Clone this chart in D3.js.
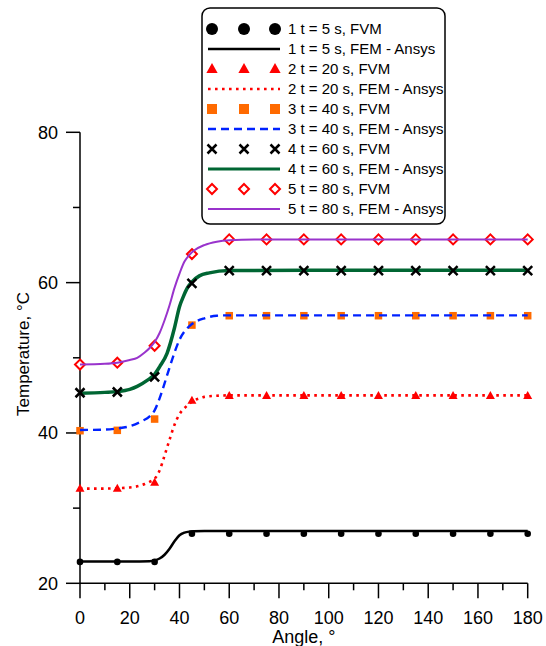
<!DOCTYPE html>
<html><head><meta charset="utf-8">
<script src="https://cdn.jsdelivr.net/npm/d3@7"></script>
<style>body{margin:0;background:#fff}svg{display:block;font-family:"Liberation Sans",Arial,sans-serif}</style>
</head><body><svg id="c" width="546" height="646"></svg>
<script>
const fvmAngles = [0,15,30,45,60,75,90,105,120,135,150,165,180];
const fvm1 = [22.85,22.85,22.85,26.6,26.6,26.6,26.6,26.6,26.6,26.6,26.6,26.6,26.6];
const fvm2 = [32.6,32.6,33.4,44.3,44.95,44.95,44.95,44.95,44.95,44.95,44.95,44.95,44.95];
const fvm3 = [40.3,40.35,41.85,54.35,55.6,55.6,55.6,55.6,55.6,55.6,55.6,55.6,55.6];
const fvm4 = [45.35,45.45,47.45,59.9,61.6,61.6,61.6,61.6,61.6,61.6,61.6,61.6,61.6];
const fvm5 = [49.1,49.35,51.6,63.8,65.75,65.75,65.75,65.75,65.75,65.75,65.75,65.75,65.75];

const fem1Angles = [0,10,20,28,30,32,34,36,38,40,42,44,46,50,60,90,120,150,180];
const fem1 = [22.9,22.9,22.9,22.95,23.05,23.3,23.8,24.6,25.6,26.4,26.75,26.88,26.92,26.95,26.95,26.95,26.95,26.95,26.95];
const fem2Angles = [0,10,20,26,28,30,32,34,36,38,40,42,44,46,48,50,55,60,90,120,150,180];
const fem2 = [32.6,32.6,32.75,33.2,33.5,33.9,35.0,37.0,39.1,41.1,42.5,43.3,43.9,44.35,44.6,44.8,44.95,45.0,45.0,45.0,45.0,45.0];
const fem3Angles = [0,10,15,20,25,28,30,32,34,36,38,40,42,44,46,50,55,60,90,120,150,180];
const fem3 = [40.4,40.45,40.6,40.9,41.6,42.2,43.0,44.6,46.6,48.7,50.7,52.4,53.5,54.2,54.7,55.25,55.6,55.65,55.65,55.65,55.65,55.65];
const fem4Angles = [0,10,15,20,23,27,30,32,35,38,40,41.5,43,45,48,52,60,90,120,150,180];
const fem4 = [45.3,45.4,45.5,45.8,46.2,47.0,47.8,48.8,50.6,54.0,56.8,58.1,59.2,60.1,60.9,61.3,61.6,61.65,61.65,61.65,61.65];
const fem5Angles = [0,10,15,20,23,26,28,30,32,34,36,38,40,42,44,46,50,55,60,70,90,120,150,180];
const fem5 = [49.1,49.2,49.35,49.7,50.0,50.7,51.3,52.1,53.3,55.0,57.0,59.3,61.2,62.8,63.7,64.3,65.0,65.45,65.65,65.75,65.75,65.75,65.75,65.75];

const legendLabels = ["1 t = 5 s, FVM","1 t = 5 s, FEM - Ansys","2 t = 20 s, FVM","2 t = 20 s, FEM - Ansys",
  "3 t = 40 s, FVM","3 t = 40 s, FEM - Ansys","4 t = 60 s, FVM","4 t = 60 s, FEM - Ansys",
  "5 t = 80 s, FVM","5 t = 80 s, FEM - Ansys"];
const xTicks = [0,20,40,60,80,100,120,140,160,180];
const yTicks = [20,40,60,80];

const svg = d3.select("#c");
const x = d3.scaleLinear().domain([0,180]).range([80,527.7]);
const y = d3.scaleLinear().domain([20,80]).range([583.3,132.3]);

// axes
const ax = svg.append("g");
ax.append("line").attr("x1",x(0)).attr("x2",x(0)).attr("y1",y(80)).attr("y2",y(20)).attr("stroke","#000").attr("stroke-width",1.5);
ax.append("line").attr("x1",x(0)).attr("x2",x(180)).attr("y1",y(20)).attr("y2",y(20)).attr("stroke","#000").attr("stroke-width",1.5);
d3.range(0,181,10).forEach(v=>{
  const major = v%20===0;
  ax.append("line").attr("x1",x(v)).attr("x2",x(v)).attr("y1",y(20)).attr("y2",y(20)+(major?15:7)).attr("stroke","#000").attr("stroke-width",1.5);
});
d3.range(20,81,10).forEach(v=>{
  const major = v%20===0;
  ax.append("line").attr("x1",x(0)-(major?14:7)).attr("x2",x(0)).attr("y1",y(v)).attr("y2",y(v)).attr("stroke","#000").attr("stroke-width",1.5);
});
ax.selectAll(".xl").data(xTicks).enter().append("text").attr("x",d=>x(d)).attr("y",623.5).attr("text-anchor","middle").attr("font-size",18).text(d=>d);
ax.selectAll(".yl").data(yTicks).enter().append("text").attr("x",58).attr("y",d=>y(d)).attr("dy","0.36em").attr("text-anchor","end").attr("font-size",18).text(d=>d);
ax.append("text").attr("x",x(90)).attr("y",643).attr("text-anchor","middle").attr("font-size",18).text("Angle, °");
ax.append("text").attr("transform","translate(29,354) rotate(-90)").attr("text-anchor","middle").attr("font-size",17).text("Temperature, °C");

// marker helpers
function marker(g, type, cx, cy, big){
  const s = big ? 1.25 : 1;
  if(type==="circle") g.append("circle").attr("cx",cx).attr("cy",cy).attr("r",big?6:3.3).attr("fill","#000");
  else if(type==="tri") { const h=8*s, w=9*s; g.append("path").attr("d",`M${cx},${cy-h*0.6}L${cx+w/2},${cy+h*0.4}L${cx-w/2},${cy+h*0.4}Z`).attr("fill","#ff0000"); }
  else if(type==="square") { const a=(big?10:7.5); g.append("rect").attr("x",cx-a/2).attr("y",cy-a/2).attr("width",a).attr("height",a).attr("fill","#ff6a00"); }
  else if(type==="x") { const a=4.5; g.append("path").attr("d",`M${cx-a},${cy-a}L${cx+a},${cy+a}M${cx-a},${cy+a}L${cx+a},${cy-a}`).attr("stroke","#000").attr("stroke-width",2.5); }
  else if(type==="diamond") { const a=5; g.append("path").attr("d",`M${cx},${cy-a}L${cx+a},${cy}L${cx},${cy+a}L${cx-a},${cy}Z`).attr("fill","#fff").attr("stroke","#ff0000").attr("stroke-width",2); }
}

const series = [
  {pts:fvm1, fa:fem1Angles, fv:fem1, m:"circle", color:"#000", w:2.5, dash:null},
  {pts:fvm2, fa:fem2Angles, fv:fem2, m:"tri", color:"#ff0000", w:2.6, dash:"2.6 4.4"},
  {pts:fvm3, fa:fem3Angles, fv:fem3, m:"square", color:"#0022ff", w:2.4, dash:"8 5"},
  {pts:fvm4, fa:fem4Angles, fv:fem4, m:"x", color:"#006633", w:3.5, dash:null},
  {pts:fvm5, fa:fem5Angles, fv:fem5, m:"diamond", color:"#9933cc", w:2, dash:null}
];
const line = d3.line().x(d=>x(d[0])).y(d=>y(d[1])).curve(d3.curveMonotoneX);
const plot = svg.append("g");
series.forEach(s=>{
  const mg = plot.append("g");
  const drawLine = ()=>{
    const p = plot.append("path").datum(s.fa.map((a,i)=>[a,s.fv[i]])).attr("d",line)
      .attr("fill","none").attr("stroke",s.color).attr("stroke-width",s.w);
    if(s.dash) p.attr("stroke-dasharray",s.dash);
  };
  if(s.m==="x"){ drawLine(); const g2=plot.append("g"); fvmAngles.forEach((a,i)=>marker(g2,s.m,x(a),y(s.pts[i]),false)); }
  else { fvmAngles.forEach((a,i)=>marker(mg,s.m,x(a),y(s.pts[i]),false)); drawLine(); }
});

// legend
const lg = svg.append("g");
lg.append("rect").attr("x",202).attr("y",8).attr("width",243).attr("height",216).attr("rx",8).attr("fill","#fff").attr("stroke","#000").attr("stroke-width",1.5);
legendLabels.forEach((t,i)=>{
  const cy = 29 + i*20;
  const s = series[Math.floor(i/2)];
  if(i%2===0){
    [212,244,275].forEach(cx=>marker(lg,s.m,cx,cy,true));
  } else {
    const p = lg.append("line").attr("x1",208).attr("x2",280).attr("y1",cy).attr("y2",cy).attr("stroke",s.color).attr("stroke-width",Math.min(s.w,3));
    if(s.dash) p.attr("stroke-dasharray",s.dash);
  }
  lg.append("text").attr("x",288).attr("y",cy).attr("dy","0.36em").attr("font-size",15).text(t);
});
</script></body></html>
